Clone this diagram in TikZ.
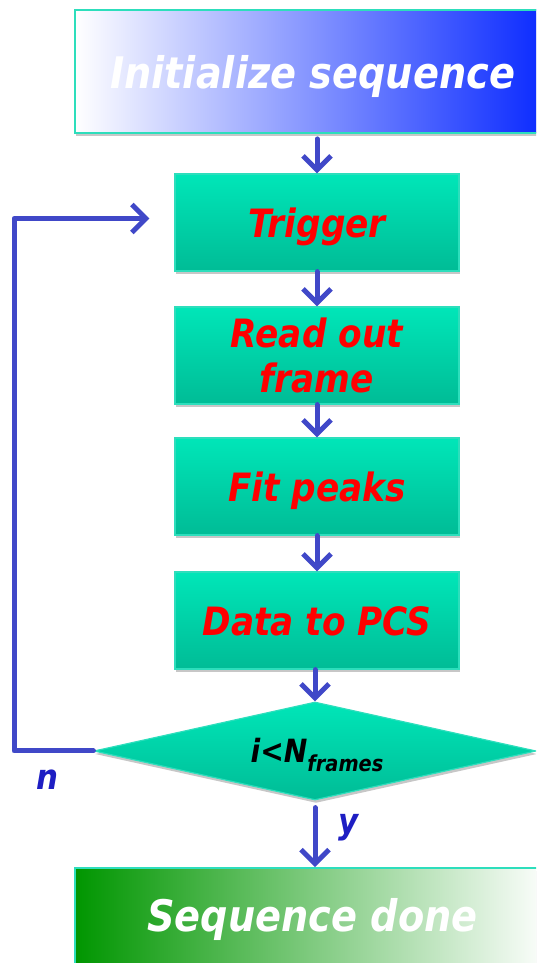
\documentclass[tikz,border=0pt]{standalone}
\usepackage{fontspec}
\newfontfamily\df{DejaVu Sans}[FakeStretch=0.88]
\usetikzlibrary{shapes.geometric,arrows.meta,shadows}
\definecolor{arrblue}{RGB}{64,72,200}
\definecolor{lblblue}{RGB}{30,30,195}
\definecolor{gtop}{RGB}{0,230,184}
\definecolor{gbot}{RGB}{0,188,150}
\definecolor{gborder}{RGB}{45,222,188}
\definecolor{iblue}{RGB}{8,40,255}
\definecolor{dgreen}{RGB}{0,150,0}
\begin{document}
\begin{tikzpicture}[x=1pt,y=1pt,
  shad/.style={drop shadow={shadow xshift=1pt,shadow yshift=-3pt,opacity=0.22,fill=black}},
  basebox/.style={rectangle, minimum width=284pt, minimum height=97pt, inner sep=0pt,
    top color=gtop, bottom color=gbot, draw=gborder, line width=1.2pt,
    font=\df\bfseries\itshape\fontsize{39}{45}\selectfont, text=red, align=center, shad},
  stepbox/.style={basebox, text height=31pt, text depth=1pt},
  bigbox/.style={rectangle, minimum width=475pt, inner sep=0pt, draw=gborder, line width=1.8pt,
    font=\df\bfseries\itshape\fontsize{43.5}{48}\selectfont, text=white, shad},
  arr/.style={draw=arrblue, line width=5pt, line cap=round, line join=round,
    -{Straight Barb[length=14pt,width=28pt]}},
  lbl/.style={font=\df\bfseries\itshape\fontsize{35}{38}\selectfont, text=lblblue, inner sep=0pt}
]
\useasboundingbox (0,0) rectangle (536,963);
\clip (0,0) rectangle (536,963);

\node[bigbox, minimum height=123pt, left color=white, right color=iblue,
      text height=36pt, text depth=2pt] (init) at (312.5,891.5) {Initialize sequence};
\node[stepbox] (trig) at (317,740.5) {Trigger};
\node[basebox] (read) at (317,607.5) {Read out\\frame};
\node[stepbox] (fit) at (317,476.5) {Fit peaks};
\node[stepbox] (data) at (317,342.5) {Data to PCS};
\node[diamond, shape aspect=4.5, minimum width=442pt, minimum height=98pt, inner sep=0pt,
      top color=gtop, bottom color=gbot, draw=gborder, line width=1.2pt, shad,
      font=\df\bfseries\itshape\fontsize{32}{36}\selectfont, text=black,
      text height=25pt, text depth=1pt] (dec) at (315,212)
      {\hspace*{4pt}i<N\raisebox{-9pt}{\fontsize{22}{24}\selectfont frames}};
\node[bigbox, minimum height=98pt, left color=dgreen, right color=white,
      text height=31pt, text depth=1pt] (done) at (312.5,46) {Sequence done};

\coordinate (lp) at (14,212);
\node[lbl] (nlab) at (47,183) {n};
\node[lbl] (ylab) at (349,135) {y};

\draw[arr, shorten <=5pt] (init.south -| trig.north) -- (trig.north);
\draw[arr] (trig.south) -- (read.north);
\draw[arr] (read.south) -- (fit.north);
\draw[arr] (fit.south) -- (data.north);
\draw[arr] (data.south -| dec.north) -- (dec.north);
\draw[arr, shorten <=7pt] (dec.south) -- (done.north -| dec.south);
\draw[arr] (dec.west) -- (lp) |- ([xshift=-25pt,yshift=4pt]trig.west);
\end{tikzpicture}
\end{document}
